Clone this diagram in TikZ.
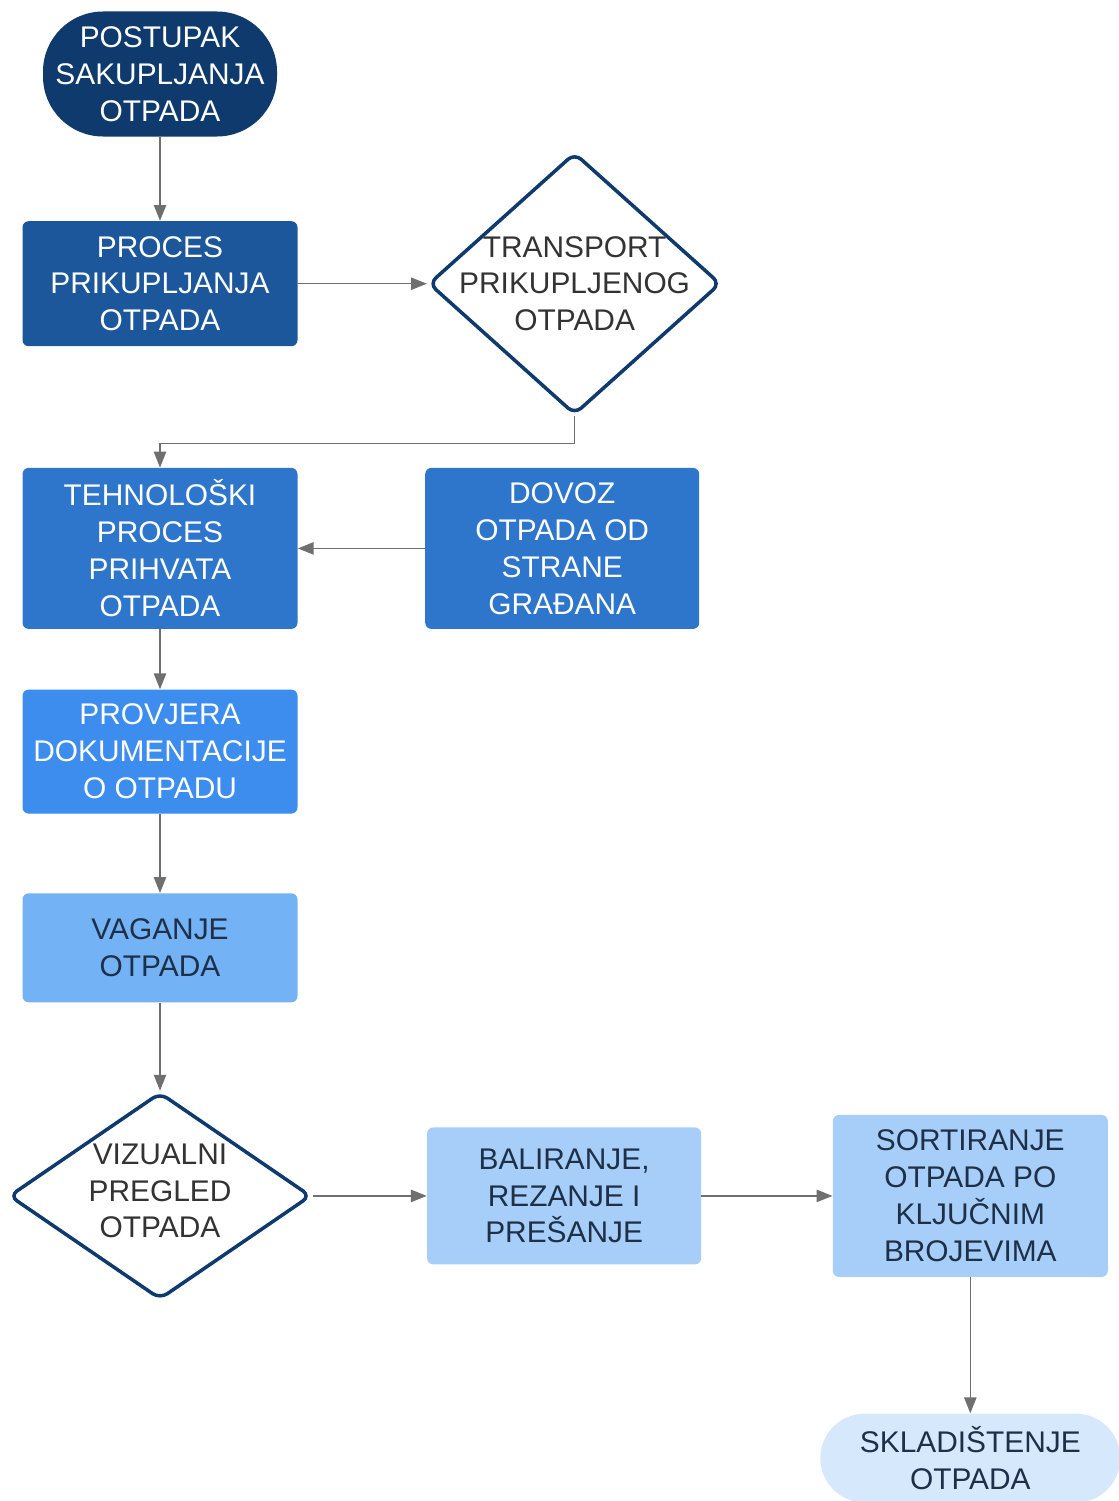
\documentclass[tikz,border=0pt]{standalone}
\usepackage{fontspec}
\setmainfont{Liberation Sans}
\usepackage{xcolor}
\usepackage{tikz}
\usetikzlibrary{positioning, shapes, arrows.meta, shapes.geometric}

\definecolor{navy}{HTML}{0E3A6D}
\definecolor{stepA}{HTML}{1D579B}
\definecolor{stepB}{HTML}{2E76CB}
\definecolor{stepC}{HTML}{3C8DEE}
\definecolor{stepD}{HTML}{74B2F6}
\definecolor{stepE}{HTML}{A6CEF8}
\definecolor{stepF}{HTML}{D5E8FC}
\definecolor{arrowgray}{HTML}{6F6F6F}
\definecolor{darktext}{HTML}{1E3048}
\definecolor{graytext}{HTML}{333333}

\begin{document}
\begin{tikzpicture}[
    node distance=1.5cm,
    txt/.style={font=\fontsize{17}{21}\selectfont, align=center, inner sep=2pt},
    terminal/.style={txt, rectangle, minimum width=4.68cm, minimum height=2.5cm, rounded corners=1.2cm},
    procbox/.style={txt, rectangle, rounded corners=3.5pt, minimum width=5.5cm},
    decision/.style={diamond, draw=navy, line width=2pt, rounded corners=5pt, fill=white, inner sep=0pt},
    flow/.style={draw=arrowgray, line width=0.8pt, -{Triangle[length=9pt, width=7pt]}}
]
\useasboundingbox (0,0) rectangle (22.36,-30.02);

% Start node
\node[terminal, fill=navy, text=white] (start) at (3.2,-1.48) {POSTUPAK\\SAKUPLJANJA\\OTPADA};

% Collection and transport
\node[procbox, fill=stepA, text=white, minimum height=2.5cm, below=1.68cm of start] (proces) {PROCES\\PRIKUPLJANJA\\OTPADA};
\node[decision, minimum width=5.84cm, minimum height=5.24cm, right=2.58cm of proces] (transport) {};
\node[txt, text=graytext] (transportlbl) at (transport) {TRANSPORT\\PRIKUPLJENOG\\OTPADA};

% Acceptance
\node[procbox, fill=stepB, text=white, minimum height=3.22cm, below=2.42cm of proces] (prihvat) {TEHNOLOŠKI\\PROCES\\PRIHVATA\\OTPADA};
\node[procbox, fill=stepB, text=white, minimum width=5.48cm, minimum height=3.22cm, right=2.54cm of prihvat] (dovoz) {DOVOZ\\OTPADA OD\\STRANE\\GRAĐANA};
\node[procbox, fill=stepC, text=white, minimum height=2.48cm, below=1.2cm of prihvat] (provjera) {PROVJERA\\DOKUMENTACIJE\\O OTPADU};
\node[procbox, fill=stepD, text=darktext, minimum height=2.18cm, below=1.58cm of provjera] (vaganje) {VAGANJE\\OTPADA};

% Inspection and treatment
\node[decision, minimum width=6.04cm, minimum height=4.14cm, below=1.76cm of vaganje] (pregled) {};
\node[txt, text=graytext, yshift=0.1cm] (pregledlbl) at (pregled) {VIZUALNI\\PREGLED\\OTPADA};
\node[procbox, fill=stepE, text=darktext, minimum width=5.48cm, minimum height=2.74cm, right=2.28cm of pregled] (baliranje) {BALIRANJE,\\REZANJE I\\PREŠANJE};
\node[procbox, fill=stepE, text=darktext, minimum height=3.24cm, right=2.62cm of baliranje] (sortiranje) {SORTIRANJE\\OTPADA PO\\KLJUČNIM\\BROJEVIMA};
\node[terminal, fill=stepF, text=darktext, minimum width=6cm, minimum height=1.78cm, rounded corners=0.89cm, below=2.72cm of sortiranje] (skladiste) {SKLADIŠTENJE\\OTPADA};

% Connectors
\draw[flow] (start) -- (proces);
\draw[flow] (proces) -- (transport);
\draw[flow] (transport.south) -- ++(0,-0.54) -| (prihvat.north);
\draw[flow] (dovoz) -- (prihvat);
\draw[flow] (prihvat) -- (provjera);
\draw[flow] (provjera) -- (vaganje);
\draw[flow] (vaganje) -- (pregled);
\draw[flow] (pregled) -- (baliranje);
\draw[flow] (baliranje) -- (sortiranje);
\draw[flow] (sortiranje) -- (skladiste);

\end{tikzpicture}
\end{document}
